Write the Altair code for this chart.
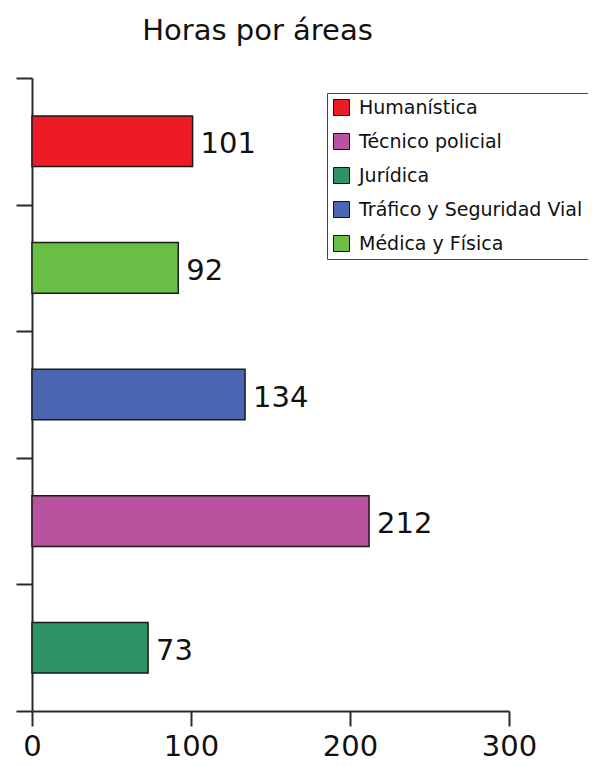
import altair as alt
import pandas as pd

# Bars, top to bottom
areas = ["Humanística", "Médica y Física", "Tráfico y Seguridad Vial", "Técnico policial", "Jurídica"]
horas = [101, 92, 134, 212, 73]

# Legend order and colours
legend_order = ["Humanística", "Técnico policial", "Jurídica", "Tráfico y Seguridad Vial", "Médica y Física"]
legend_colors = ["#ED1C24", "#B9529F", "#2E9467", "#4A66B0", "#6BBE45"]

x_ticks = [0, 100, 200, 300]

df = pd.DataFrame({"area": areas, "horas": horas})

FONT = "DejaVu Sans"

y_enc = alt.Y(
    "area:N",
    sort=areas,
    scale=alt.Scale(paddingInner=0, paddingOuter=0),
    axis=alt.Axis(
        labels=False, title=None, tickBand="extent", tickSize=16,
        domainColor="#2a2a2a", tickColor="#2a2a2a", domainWidth=2, tickWidth=2,
    ),
)
x_enc = alt.X(
    "horas:Q",
    scale=alt.Scale(domain=[0, 300], nice=False),
    axis=alt.Axis(
        values=x_ticks, title=None, grid=False, tickSize=15, labelFontSize=29,
        labelFont=FONT, labelColor="#111", labelPadding=6,
        domainColor="#2a2a2a", tickColor="#2a2a2a", domainWidth=2, tickWidth=2,
        labelFlush=False,
    ),
)

bars = alt.Chart(df).mark_bar(
    height=alt.RelativeBandSize(0.4), stroke="#1a1a1a", strokeWidth=1.5
).encode(
    x=x_enc,
    y=y_enc,
    color=alt.Color(
        "area:N",
        scale=alt.Scale(domain=legend_order, range=legend_colors),
        legend=alt.Legend(
            title=None, orient="none", legendX=295, legendY=15,
            symbolType="square", symbolSize=256, symbolStrokeColor="#111",
            symbolStrokeWidth=1, labelFontSize=19, labelFont=FONT,
            labelColor="#111", rowPadding=13, padding=5, strokeColor="#444",
            fillColor="white", labelOffset=8, labelLimit=400,
        ),
    ),
)

labels = alt.Chart(df).mark_text(
    align="left", baseline="middle", dx=8, dy=3, fontSize=29, font=FONT, color="#111"
).encode(
    x="horas:Q",
    y=alt.Y("area:N", sort=areas),
    text="horas:Q",
)

chart = alt.layer(bars, labels).properties(
    width=477,
    height=633,
    autosize=alt.AutoSizeParams(type="none"),
    padding={"left": 24, "top": 70, "right": 79, "bottom": 47},
    title=alt.TitleParams(
        "Horas por áreas", fontSize=29, font=FONT, fontWeight="normal",
        color="#111", anchor="middle", dx=-13, baseline="alphabetic", offset=8,
    ),
).configure_view(stroke=None)

chart.save("out.html", embed_options={"renderer": "svg", "actions": False})
